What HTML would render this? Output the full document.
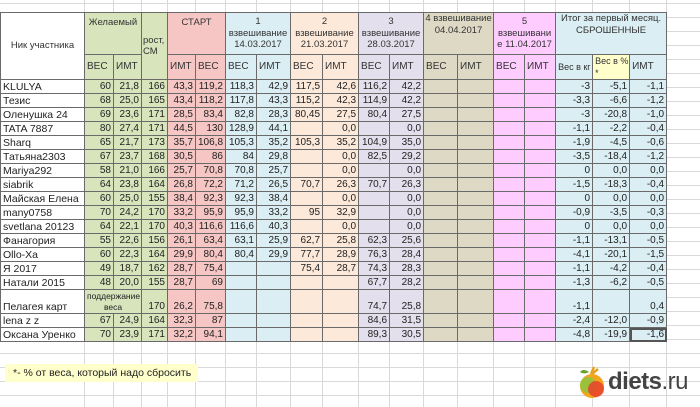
<!DOCTYPE html>
<html><head><meta charset="utf-8"><style>
body{margin:0;width:700px;height:407px;overflow:hidden;background:#fff;position:relative;font-family:"Liberation Sans","DejaVu Sans",sans-serif;color:#222}
.grid{position:absolute;left:0;top:0;width:700px;height:407px;
background-image:linear-gradient(#d9d9d9 1px,transparent 1px);background-size:700px 14px;background-position:0 3px}
.vl{position:absolute;top:0;height:407px;width:1px;background:#d9d9d9}
table{position:absolute;left:0;top:12px;border-collapse:collapse;table-layout:fixed;width:666px;font-size:10px}
td{border:1px solid #6a6a6a;padding:0 2px;height:13px;line-height:12px;text-align:right;white-space:nowrap;overflow:hidden}
td.n{text-align:left;font-size:10.5px}
tr.h1 td{height:37px;text-align:center;white-space:normal;line-height:11.5px;font-size:9.5px;color:#333;padding:0 1px}
tr.h2 td{height:24px;text-align:left;font-size:10px;color:#333}
tr.tall td{height:23px;vertical-align:bottom}
.note{position:absolute;left:5px;top:364px;width:185px;height:18px;background:#ffffcc;font-size:10.5px;line-height:18px;padding-left:8px;color:#222}
.logo{position:absolute;left:608px;top:368px;font-size:24px;font-weight:bold;color:#444;letter-spacing:-0.5px}
.logo span{font-weight:normal}
</style></head><body>
<div class="grid"></div>
<div class="vl" style="left:84px"></div><div class="vl" style="left:113px"></div><div class="vl" style="left:141px"></div><div class="vl" style="left:167px"></div><div class="vl" style="left:195px"></div><div class="vl" style="left:225px"></div><div class="vl" style="left:256px"></div><div class="vl" style="left:290px"></div><div class="vl" style="left:322px"></div><div class="vl" style="left:358px"></div><div class="vl" style="left:389px"></div><div class="vl" style="left:423px"></div><div class="vl" style="left:457px"></div><div class="vl" style="left:493px"></div><div class="vl" style="left:524px"></div><div class="vl" style="left:555px"></div><div class="vl" style="left:592px"></div><div class="vl" style="left:629px"></div><div class="vl" style="left:666px"></div>
<table>
<colgroup>
<col style="width:84px;background:#fff">
<col style="width:29px;background:#d8e4bc"><col style="width:28px;background:#d8e4bc"><col style="width:26px;background:#d8e4bc">
<col style="width:28px;background:#f6c6c4"><col style="width:30px;background:#f6c6c4">
<col style="width:31px;background:#dbeef4"><col style="width:34px;background:#dbeef4">
<col style="width:32px;background:#fde9d9"><col style="width:36px;background:#fde9d9">
<col style="width:31px;background:#e4dfec"><col style="width:34px;background:#e4dfec">
<col style="width:34px;background:#ddd9c4"><col style="width:36px;background:#ddd9c4">
<col style="width:31px;background:#ffccff"><col style="width:31px;background:#ffccff">
<col style="width:37px;background:#daeef3"><col style="width:37px;background:#daeef3"><col style="width:37px;background:#daeef3">
</colgroup>
<tr class="h1"><td rowspan="2" style="text-align:center;vertical-align:middle">Ник участника</td><td colspan="2" style="vertical-align:top;padding-top:4px">Желаемый</td><td rowspan="2" style="text-align:left">рост, СМ</td><td colspan="2" style="vertical-align:top;padding-top:4px">СТАРТ</td><td colspan="2">1<br>взвешивание 14.03.2017</td><td colspan="2">2<br>взвешивание 21.03.2017</td><td colspan="2">3<br>взвешивание 28.03.2017</td><td colspan="2" style="vertical-align:top">4 взвешивание 04.04.2017</td><td colspan="2">5<br>взвешивани е 11.04.2017</td><td colspan="3" style="vertical-align:top">Итог за первый месяц. СБРОШЕННЫЕ</td></tr>
<tr class="h2"><td>ВЕС</td><td>ИМТ</td><td>ИМТ</td><td>ВЕС</td><td>ВЕС</td><td>ИМТ</td><td>ВЕС</td><td>ИМТ</td><td>ВЕС</td><td>ИМТ</td><td>ВЕС</td><td>ИМТ</td><td>ВЕС</td><td>ИМТ</td><td style="font-size:9px">Вес в кг</td><td style="background:#ffffcc;vertical-align:top;font-size:9px">Вес в %<br>*</td><td>ИМТ</td></tr>
<tr><td class="n">KLULYA</td><td>60</td><td>21,8</td><td>166</td><td>43,3</td><td>119,2</td><td>118,3</td><td>42,9</td><td>117,5</td><td>42,6</td><td>116,2</td><td>42,2</td><td></td><td></td><td></td><td></td><td>-3</td><td>-5,1</td><td>-1,1</td></tr>
<tr><td class="n">Тезис</td><td>68</td><td>25,0</td><td>165</td><td>43,4</td><td>118,2</td><td>117,8</td><td>43,3</td><td>115,2</td><td>42,3</td><td>114,9</td><td>42,2</td><td></td><td></td><td></td><td></td><td>-3,3</td><td>-6,6</td><td>-1,2</td></tr>
<tr><td class="n">Оленушка 24</td><td>69</td><td>23,6</td><td>171</td><td>28,5</td><td>83,4</td><td>82,8</td><td>28,3</td><td>80,45</td><td>27,5</td><td>80,4</td><td>27,5</td><td></td><td></td><td></td><td></td><td>-3</td><td>-20,8</td><td>-1,0</td></tr>
<tr><td class="n">TATA 7887</td><td>80</td><td>27,4</td><td>171</td><td>44,5</td><td>130</td><td>128,9</td><td>44,1</td><td></td><td>0,0</td><td></td><td>0,0</td><td></td><td></td><td></td><td></td><td>-1,1</td><td>-2,2</td><td>-0,4</td></tr>
<tr><td class="n">Sharq</td><td>65</td><td>21,7</td><td>173</td><td>35,7</td><td>106,8</td><td>105,3</td><td>35,2</td><td>105,3</td><td>35,2</td><td>104,9</td><td>35,0</td><td></td><td></td><td></td><td></td><td>-1,9</td><td>-4,5</td><td>-0,6</td></tr>
<tr><td class="n">Татьяна2303</td><td>67</td><td>23,7</td><td>168</td><td>30,5</td><td>86</td><td>84</td><td>29,8</td><td></td><td>0,0</td><td>82,5</td><td>29,2</td><td></td><td></td><td></td><td></td><td>-3,5</td><td>-18,4</td><td>-1,2</td></tr>
<tr><td class="n">Mariya292</td><td>58</td><td>21,0</td><td>166</td><td>25,7</td><td>70,8</td><td>70,8</td><td>25,7</td><td></td><td>0,0</td><td></td><td>0,0</td><td></td><td></td><td></td><td></td><td>0</td><td>0,0</td><td>0,0</td></tr>
<tr><td class="n">siabrik</td><td>64</td><td>23,8</td><td>164</td><td>26,8</td><td>72,2</td><td>71,2</td><td>26,5</td><td>70,7</td><td>26,3</td><td>70,7</td><td>26,3</td><td></td><td></td><td></td><td></td><td>-1,5</td><td>-18,3</td><td>-0,4</td></tr>
<tr><td class="n">Майская Елена</td><td>60</td><td>25,0</td><td>155</td><td>38,4</td><td>92,3</td><td>92,3</td><td>38,4</td><td></td><td>0,0</td><td></td><td>0,0</td><td></td><td></td><td></td><td></td><td>0</td><td>0,0</td><td>0,0</td></tr>
<tr><td class="n">many0758</td><td>70</td><td>24,2</td><td>170</td><td>33,2</td><td>95,9</td><td>95,9</td><td>33,2</td><td>95</td><td>32,9</td><td></td><td>0,0</td><td></td><td></td><td></td><td></td><td>-0,9</td><td>-3,5</td><td>-0,3</td></tr>
<tr><td class="n">svetlana 20123</td><td>64</td><td>22,1</td><td>170</td><td>40,3</td><td>116,6</td><td>116,6</td><td>40,3</td><td></td><td>0,0</td><td></td><td>0,0</td><td></td><td></td><td></td><td></td><td>0</td><td>0,0</td><td>0,0</td></tr>
<tr><td class="n">Фанагория</td><td>55</td><td>22,6</td><td>156</td><td>26,1</td><td>63,4</td><td>63,1</td><td>25,9</td><td>62,7</td><td>25,8</td><td>62,3</td><td>25,6</td><td></td><td></td><td></td><td></td><td>-1,1</td><td>-13,1</td><td>-0,5</td></tr>
<tr><td class="n">Ollo-Xa</td><td>60</td><td>22,3</td><td>164</td><td>29,9</td><td>80,4</td><td>80,4</td><td>29,9</td><td>77,7</td><td>28,9</td><td>76,3</td><td>28,4</td><td></td><td></td><td></td><td></td><td>-4,1</td><td>-20,1</td><td>-1,5</td></tr>
<tr><td class="n">Я 2017</td><td>49</td><td>18,7</td><td>162</td><td>28,7</td><td>75,4</td><td></td><td></td><td>75,4</td><td>28,7</td><td>74,3</td><td>28,3</td><td></td><td></td><td></td><td></td><td>-1,1</td><td>-4,2</td><td>-0,4</td></tr>
<tr><td class="n">Натали 2015</td><td>48</td><td>20,0</td><td>155</td><td>28,7</td><td>69</td><td></td><td></td><td></td><td></td><td>67,7</td><td>28,2</td><td></td><td></td><td></td><td></td><td>-1,3</td><td>-6,2</td><td>-0,5</td></tr>
<tr class="tall"><td class="n">Пелагея карт</td><td colspan="2" style="text-align:center;white-space:normal;font-size:8.5px;line-height:11px">поддержание веса</td><td>170</td><td>26,2</td><td>75,8</td><td></td><td></td><td></td><td></td><td>74,7</td><td>25,8</td><td></td><td></td><td></td><td></td><td>-1,1</td><td></td><td>0,4</td></tr>
<tr><td class="n">lena z z</td><td>67</td><td>24,9</td><td>164</td><td>32,3</td><td>87</td><td></td><td></td><td></td><td></td><td>84,6</td><td>31,5</td><td></td><td></td><td></td><td></td><td>-2,4</td><td>-12,0</td><td>-0,9</td></tr>
<tr><td class="n">Оксана Уренко</td><td>70</td><td>23,9</td><td>171</td><td>32,2</td><td>94,1</td><td></td><td></td><td></td><td></td><td>89,3</td><td>30,5</td><td></td><td></td><td></td><td></td><td>-4,8</td><td>-19,9</td><td style="outline:2px solid #555;outline-offset:-2px">-1,6</td></tr>
</table>
<div class="note">*- % от веса, который надо сбросить</div>
<svg style="position:absolute;left:577px;top:365px" width="30" height="35"><path d="M14 9 L17 2 M15 9 L21 4" stroke="#e8a020" stroke-width="2.5"/><path d="M12 7 q-6-4-9 0 q4 3 9 0z" fill="#6aa32a"/><circle cx="15" cy="21" r="12" fill="#f2a51e"/><circle cx="11" cy="20" r="8" fill="#8cc63f" opacity=".85"/><circle cx="19" cy="24" r="8" fill="#e8412c" opacity=".85"/></svg>
<div class="logo">diets<span>.ru</span></div>
</body></html>
